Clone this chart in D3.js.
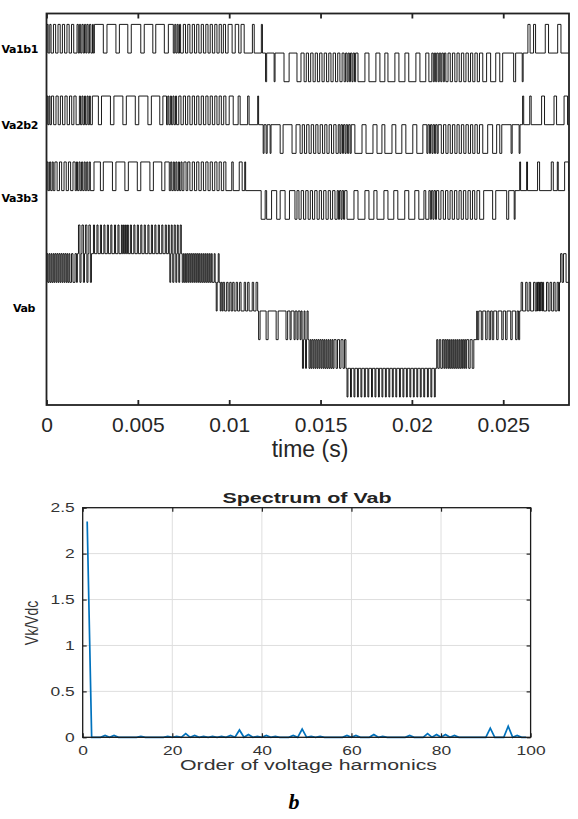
<!DOCTYPE html>
<html>
<head>
<meta charset="utf-8">
<script src="https://cdn.jsdelivr.net/npm/d3@7"></script>
<style>
  body { margin: 0; background: #fff; }
  svg { display: block; }
</style>
</head>
<body>
<svg id="chart" width="578" height="819"></svg>
<script>
// ---------- top plot data (time in ms) ----------
const timeTicks = [0, 5, 10, 15, 20, 25];
const timeTickLabels = ["0", "0.005", "0.01", "0.015", "0.02", "0.025"];
const traceNames = ["Va1b1", "Va2b2", "Va3b3", "Vab"];

// cell outputs: [start, end] of the +1 and -1 pulses, the rest is 0
const va1Pos = [[0.03,0.09],[0.18,0.25],
  [0.38,0.50],[0.63,0.75],[0.87,0.99],[1.12,1.24],[1.37,1.49],
  [1.67,1.74],[1.80,1.87],[1.94,2.01],[2.08,2.15],[2.21,2.28],[2.35,2.43],
  [2.52,2.56],[2.62,3.11],[3.31,3.80],[3.99,4.45],[4.64,5.16],[5.35,5.82],[5.98,6.45],[6.67,6.94],
  [7.02,7.08],[7.15,7.21],[7.28,7.34],
  [7.49,7.61],[7.73,7.85],[7.98,8.10],[8.22,8.34],[8.47,8.59],[8.72,8.84],[8.96,9.08],[9.21,9.33],[9.45,9.57],
  [9.68,9.80],[9.94,10.16],[10.33,10.52],[10.65,10.82],[11.27,11.37],[11.76,11.82],
  [26.35,26.47],[26.66,26.77],[27.30,27.48],[27.98,28.16]];
const va1Neg = [[11.99,12.05],[12.46,12.51],[13.00,13.28],[13.71,13.93],
  [14.10,14.22],[14.34,14.46],[14.59,14.71],[14.83,14.95],[15.08,15.20],[15.33,15.45],[15.57,15.69],[15.82,15.94],[16.06,16.18],[16.29,16.37],
  [16.45,16.51],[16.58,16.64],[16.72,16.78],[16.86,16.92],
  [17.05,17.43],[17.65,18.03],[18.25,18.52],[18.69,19.07],[19.29,19.62],[19.83,20.22],[20.44,20.76],[20.93,21.09],
  [21.17,21.23],[21.30,21.36],[21.44,21.50],[21.58,21.64],[21.72,21.78],
  [21.86,21.98],[22.10,22.22],[22.35,22.47],[22.59,22.71],[22.84,22.96],[23.09,23.21],[23.33,23.45],[23.58,23.70],
  [23.88,24.09],[24.31,24.59],[24.81,24.97],[25.57,25.68],[26.04,26.09]];

const va2Pos = [[0.03,0.08],[0.14,0.19],
  [0.27,0.39],[0.52,0.64],[0.76,0.88],[1.01,1.13],[1.26,1.38],[1.50,1.62],
  [1.80,1.86],[1.94,2.00],[2.08,2.14],[2.22,2.28],[2.35,2.40],
  [2.51,2.84],[3.01,3.50],[3.69,4.18],[4.37,4.86],[5.05,5.55],[5.74,6.20],[6.37,6.57],
  [6.64,6.70],[6.78,6.84],[6.92,6.98],[7.06,7.12],
  [7.24,7.36],[7.49,7.61],[7.73,7.85],[7.98,8.10],[8.22,8.34],[8.47,8.59],[8.72,8.84],[8.96,9.08],[9.21,9.33],[9.45,9.57],[9.70,9.82],
  [10.00,10.22],[10.49,10.60],[11.01,11.09],[11.56,11.61],
  [26.06,26.12],[26.45,26.53],[27.10,27.26],[27.78,27.92],[28.33,28.52]];
const va2Neg = [[11.86,11.91],[12.02,12.08],[12.24,12.29],[12.79,12.95],[13.44,13.66],
  [13.88,14.00],[14.12,14.24],[14.37,14.49],[14.62,14.74],[14.86,14.98],[15.11,15.23],[15.35,15.47],[15.60,15.72],[15.85,15.97],
  [16.06,16.12],[16.20,16.26],[16.34,16.40],[16.48,16.54],[16.62,16.68],
  [16.88,17.27],[17.49,17.87],[18.09,18.36],[18.52,18.91],[19.12,19.45],[19.67,20.05],[20.27,20.60],
  [20.82,20.88],[20.96,21.02],[21.10,21.16],[21.24,21.30],[21.38,21.44],
  [21.61,21.73],[21.86,21.98],[22.10,22.22],[22.35,22.47],[22.59,22.71],[22.84,22.96],[23.09,23.21],[23.33,23.45],[23.58,23.70],
  [23.88,24.15],[24.42,24.64],[24.81,24.92],[25.43,25.49],[25.87,25.92]];

const va3Pos = [[0.03,0.09],[0.17,0.23],[0.31,0.37],
  [0.46,0.58],[0.71,0.83],[0.96,1.08],[1.20,1.32],[1.45,1.57],
  [1.64,1.70],[1.78,1.84],[1.92,1.98],[2.06,2.12],[2.20,2.26],[2.34,2.40],
  [2.60,2.95],[3.11,3.61],[3.80,4.29],[4.48,4.97],[5.16,5.66],[5.85,6.31],[6.48,6.72],
  [6.80,6.86],[6.94,7.00],[7.08,7.14],[7.22,7.28],[7.36,7.42],
  [7.52,7.64],[7.73,7.85],[7.98,8.10],[8.22,8.34],[8.47,8.59],[8.72,8.84],[8.96,9.08],[9.21,9.33],[9.45,9.57],[9.70,9.82],
  [10.14,10.22],[10.55,10.71],[10.85,10.90],
  [25.90,25.95],[26.28,26.33],[26.88,26.99],[27.63,27.74],[27.96,28.01],[28.36,28.58]];
const va3Neg = [[11.75,11.97],[12.05,12.32],[12.60,12.79],[13.06,13.30],[13.60,13.71],
  [13.82,13.94],[14.07,14.19],[14.32,14.44],[14.56,14.68],[14.81,14.93],[15.05,15.17],[15.30,15.42],[15.54,15.66],[15.79,15.91],
  [15.98,16.04],[16.12,16.18],[16.26,16.32],
  [16.45,16.83],[17.05,17.43],[17.65,17.92],[18.09,18.47],[18.69,19.01],[19.23,19.61],[19.83,20.16],[20.38,20.66],[20.76,20.93],
  [21.01,21.07],[21.15,21.21],[21.29,21.35],
  [21.47,21.59],[21.72,21.84],[21.97,22.09],[22.21,22.33],[22.46,22.58],[22.70,22.82],[22.95,23.07],[23.20,23.32],[23.44,23.56],
  [23.71,23.93],[24.42,24.59],[25.19,25.30],[25.60,25.65]];

// Vab: base level per interval, and pulses [start, end, level] on top of it
const vabBands = [[0,1.69,1],[1.69,7.43,2],[7.43,9.62,1],[9.62,13.88,0],[13.88,16.39,-1],
  [16.39,21.36,-2],[21.36,23.55,-1],[23.55,28.08,0],[28.08,28.6,1]];
const vabPulses = [
  [0.03,0.08,2],[0.14,0.19,2],[0.25,0.30,2],[0.36,0.41,2],[0.46,0.52,2],[0.57,0.63,2],[0.68,0.74,2],[0.79,0.85,2],[0.90,0.96,2],[1.01,1.07,2],[1.12,1.17,2],[1.23,1.28,2],
  [1.37,1.45,2],[1.56,1.64,2],
  [1.75,1.83,3],[1.83,1.89,1],[1.94,2.02,3],[2.02,2.08,1],[2.13,2.21,3],[2.21,2.27,1],[2.32,2.40,3],[2.40,2.46,1],
  [2.57,2.63,3],[2.76,2.82,3],[2.95,3.01,3],[3.14,3.20,3],[3.33,3.39,3],[3.52,3.58,3],[3.72,3.78,3],[3.91,3.97,3],
  [4.10,4.15,3],[4.21,4.26,3],[4.32,4.37,3],[4.43,4.48,3],[4.59,4.65,3],[4.78,4.84,3],[4.97,5.03,3],[5.16,5.22,3],
  [5.35,5.41,3],[5.55,5.61,3],[5.74,5.80,3],[5.93,5.99,3],[6.12,6.18,3],[6.31,6.37,3],[6.50,6.56,3],
  [6.67,6.72,3],[6.75,6.80,1],[6.83,6.88,3],[6.91,6.97,1],[6.99,7.05,3],[7.08,7.13,1],[7.16,7.21,3],[7.24,7.29,1],[7.32,7.38,3],
  [7.49,7.54,2],[7.60,7.65,2],[7.70,7.76,2],[7.81,7.87,2],[7.92,7.98,2],[8.03,8.09,2],[8.14,8.20,2],[8.25,8.31,2],
  [8.36,8.41,2],[8.47,8.52,2],[8.58,8.63,2],[8.69,8.74,2],[8.80,8.85,2],[8.91,8.96,2],[9.02,9.07,2],
  [9.18,9.23,2],[9.29,9.34,0],[9.40,9.45,2],[9.51,9.56,0],
  [9.67,9.75,1],[9.86,9.94,1],[10.03,10.11,1],[10.19,10.27,1],[10.38,10.46,1],[10.57,10.65,1],[10.82,10.90,1],[11.01,11.09,1],[11.26,11.34,1],[11.47,11.56,1],
  [11.61,11.69,-1],[12.02,12.13,-1],[12.57,12.68,-1],[13.11,13.20,-1],[13.33,13.39,-1],[13.55,13.61,-1],[13.71,13.77,-1],
  [13.93,13.99,0],[14.01,14.07,-2],[14.10,14.15,0],[14.18,14.23,-2],[14.26,14.32,0],[14.37,14.43,-2],[14.48,14.53,-2],[14.59,14.64,-2],
  [14.70,14.75,-2],[14.81,14.86,-2],[14.92,14.97,-2],[15.03,15.08,-2],[15.14,15.19,-2],[15.24,15.30,-2],[15.35,15.41,-2],[15.46,15.52,-2],
  [15.57,15.63,-2],[15.68,15.74,-2],[15.85,15.93,-2],[16.04,16.12,-2],[16.23,16.31,-2],
  [16.45,16.50,-3],[16.64,16.69,-3],[16.83,16.88,-3],[17.02,17.07,-3],[17.21,17.26,-3],[17.40,17.45,-3],[17.59,17.64,-3],[17.79,17.84,-3],
  [17.98,18.03,-3],[18.17,18.22,-3],[18.36,18.41,-3],[18.55,18.60,-3],[18.74,18.79,-3],[18.93,18.98,-3],[19.12,19.17,-3],[19.32,19.37,-3],
  [19.51,19.56,-3],[19.70,19.75,-3],[19.89,19.94,-3],[20.08,20.13,-3],[20.27,20.32,-3],[20.46,20.51,-3],[20.65,20.70,-3],[20.85,20.90,-3],
  [21.04,21.09,-3],[21.23,21.28,-3],
  [21.42,21.50,-2],[21.58,21.67,-2],[21.75,21.80,-2],[21.86,21.91,-2],[21.97,22.02,-2],[22.07,22.13,-2],[22.18,22.24,-2],[22.29,22.35,-2],
  [22.40,22.46,-2],[22.51,22.57,-2],[22.62,22.68,-2],[22.73,22.78,-2],[22.84,22.89,-2],[22.95,23.00,-2],[23.11,23.19,-2],[23.30,23.39,-2],
  [23.58,23.66,-1],[23.80,23.88,-1],[24.04,24.12,-1],[24.23,24.31,-1],[24.40,24.48,-1],[24.64,24.72,-1],[24.92,25.00,-1],[25.13,25.21,-1],
  [25.41,25.49,-1],[25.68,25.76,-1],[25.84,25.90,-1],
  [25.98,26.06,1],[26.23,26.31,1],[26.42,26.50,1],[26.66,26.75,1],[26.83,26.88,1],[26.91,26.96,1],[26.99,27.05,1],[27.07,27.13,1],
  [27.16,27.21,1],[27.37,27.46,1],[27.56,27.65,1],[27.76,27.84,1],[27.95,28.03,1],
  [28.14,28.22,2],[28.30,28.44,2]];

// ---------- bottom plot data ----------
// Vk/Vdc for harmonic orders 1..99
const spectrumValues = [
  2.35, 0, 0, 0, 0.02, 0, 0.02, 0, 0, 0,
  0, 0, 0.01, 0, 0, 0, 0, 0, 0.01, 0,
  0.01, 0, 0.04, 0, 0.02, 0, 0.01, 0, 0.01, 0,
  0.01, 0, 0.02, 0, 0.08, 0, 0.03, 0, 0.01, 0,
  0.02, 0, 0.01, 0, 0, 0, 0.02, 0, 0.09, 0,
  0.01, 0, 0.01, 0, 0, 0, 0, 0, 0.02, 0,
  0.02, 0, 0, 0, 0.03, 0, 0.01, 0, 0, 0,
  0, 0, 0.02, 0, 0, 0, 0.04, 0, 0.03, 0,
  0.03, 0, 0.02, 0, 0, 0, 0, 0, 0, 0,
  0.10, 0, 0, 0, 0.12, 0, 0.02, 0, 0];
const orderTicks = [0, 20, 40, 60, 80, 100];
const ampTicks = [0, 0.5, 1, 1.5, 2, 2.5];

// ---------- layout ----------
const tEnd = 28.6;
const traceOffsets = [9, 6.5, 4.2, 0];
const labelLevels = [9.14, 6.49, 3.94, 0.1];
const labelRight = [38, 38, 38, 35];

const svg = d3.select("#chart");

// turn bands + pulses into step points
function stepPoints(bands, pulses) {
  const cuts = new Set();
  bands.forEach(b => { cuts.add(b[0]); cuts.add(b[1]); });
  pulses.forEach(p => { cuts.add(p[0]); cuts.add(p[1]); });
  const ts = Array.from(cuts).sort((a, b) => a - b);
  const levelAt = t => {
    const p = pulses.find(q => t >= q[0] && t < q[1]);
    if (p) return p[2];
    const b = bands.find(q => t >= q[0] && t < q[1]);
    return b ? b[2] : 0;
  };
  const pts = [];
  for (let i = 0; i < ts.length - 1; i++) {
    pts.push([ts[i], levelAt((ts[i] + ts[i + 1]) / 2)]);
  }
  pts.push([ts[ts.length - 1], pts[pts.length - 1][1]]);
  return pts;
}
const cell = (pos, neg) => pos.map(p => [p[0], p[1], 1]).concat(neg.map(p => [p[0], p[1], -1]));

const traces = [
  stepPoints([[0, tEnd, 0]], cell(va1Pos, va1Neg)),
  stepPoints([[0, tEnd, 0]], cell(va2Pos, va2Neg)),
  stepPoints([[0, tEnd, 0]], cell(va3Pos, va3Neg)),
  stepPoints(vabBands, vabPulses)
];

// ---------- top plot ----------
const x1 = d3.scaleLinear().domain([0, tEnd]).range([46.5, 569]);
const y1 = d3.scaleLinear().domain([-3.28, 10.38]).range([405, 13.5]);

svg.append("clipPath").attr("id", "clipTop")
  .append("rect").attr("x", 46.5).attr("y", 13.5).attr("width", 522.5).attr("height", 391.5);

const gTraces = svg.append("g").attr("clip-path", "url(#clipTop)");
traces.forEach((pts, i) => {
  const line = d3.line()
    .x(d => x1(d[0]))
    .y(d => y1(d[1] + traceOffsets[i]))
    .curve(d3.curveStepAfter);
  gTraces.append("path")
    .attr("d", line(pts))
    .attr("fill", "none")
    .attr("stroke", "#000")
    .attr("stroke-width", 0.9);
});

svg.selectAll(".tlabel").data(traceNames).enter().append("text")
  .attr("x", (d, i) => labelRight[i])
  .attr("y", (d, i) => y1(labelLevels[i]))
  .attr("dy", "0.35em")
  .attr("text-anchor", "end")
  .attr("font-family", "DejaVu Sans")
  .attr("font-weight", "bold")
  .attr("font-size", 11)
  .attr("letter-spacing", -0.4)
  .text(d => d);

const xAxisB = d3.axisBottom(x1).tickValues(timeTicks)
  .tickFormat((d, i) => timeTickLabels[i]).tickSize(-5).tickPadding(12);
const gxb = svg.append("g").attr("transform", "translate(0,405)").call(xAxisB);
const gxt = svg.append("g").attr("transform", "translate(0,13.5)")
  .call(d3.axisTop(x1).tickValues(timeTicks).tickFormat("").tickSize(-5));
[gxb, gxt].forEach(g => {
  g.select(".domain").remove();
  g.selectAll(".tick line").attr("stroke", "#222").attr("stroke-width", 1.8);
});
gxb.selectAll(".tick text")
  .attr("font-family", "Liberation Sans, Arial, sans-serif")
  .attr("font-size", 21).attr("fill", "#262626");

svg.append("rect")
  .attr("x", 46.5).attr("y", 13.5).attr("width", 522.5).attr("height", 391.5)
  .attr("fill", "none").attr("stroke", "#222").attr("stroke-width", 1.8);

svg.append("text")
  .attr("x", 310).attr("y", 457)
  .attr("text-anchor", "middle")
  .attr("font-family", "Liberation Sans, Arial, sans-serif")
  .attr("font-size", 23).attr("fill", "#262626")
  .text("time (s)");

// ---------- bottom plot ----------
const x2 = d3.scaleLinear().domain([0, 100]).range([82.7, 530.6]);
const y2 = d3.scaleLinear().domain([0, 2.5]).range([737.3, 507.7]);
const stretch = 1.45;

const grid = svg.append("g").attr("stroke", "#dedede").attr("stroke-width", 1);
grid.selectAll(".gx").data(orderTicks.slice(1, -1)).enter().append("line")
  .attr("x1", d => x2(d)).attr("x2", d => x2(d)).attr("y1", y2(0)).attr("y2", y2(2.5));
grid.selectAll(".gy").data(ampTicks.slice(1, -1)).enter().append("line")
  .attr("x1", x2(0)).attr("x2", x2(100)).attr("y1", d => y2(d)).attr("y2", d => y2(d));

const spec = spectrumValues.map((v, i) => [i + 1, v]);
svg.append("path")
  .attr("d", d3.line().x(d => x2(d[0])).y(d => y2(d[1]))(spec))
  .attr("fill", "none").attr("stroke", "#0072BD").attr("stroke-width", 1.7);

const axes2 = [
  svg.append("g").attr("transform", `translate(0,${y2(0)})`)
    .call(d3.axisBottom(x2).tickValues(orderTicks).tickSize(-4).tickPadding(9)),
  svg.append("g").attr("transform", `translate(0,${y2(2.5)})`)
    .call(d3.axisTop(x2).tickValues(orderTicks).tickFormat("").tickSize(-4)),
  svg.append("g").attr("transform", `translate(${x2(0)},0)`)
    .call(d3.axisLeft(y2).tickValues(ampTicks).tickFormat(d3.format("")).tickSize(-4).tickPadding(8)),
  svg.append("g").attr("transform", `translate(${x2(100)},0)`)
    .call(d3.axisRight(y2).tickValues(ampTicks).tickFormat("").tickSize(-4))
];
axes2.forEach(g => {
  g.select(".domain").remove();
  g.selectAll(".tick line").attr("stroke", "#222").attr("stroke-width", 1.2);
  g.selectAll(".tick text")
    .attr("font-family", "Liberation Sans, Arial, sans-serif")
    .attr("font-size", 12).attr("fill", "#333");
});

svg.append("rect")
  .attr("x", x2(0)).attr("y", y2(2.5)).attr("width", x2(100) - x2(0)).attr("height", y2(0) - y2(2.5))
  .attr("fill", "none").attr("stroke", "#1a1a1a").attr("stroke-width", 1.3);

svg.append("text")
  .attr("x", 307).attr("y", 502.5).attr("text-anchor", "middle")
  .attr("font-family", "Liberation Sans, Arial, sans-serif").attr("font-weight", "bold")
  .attr("font-size", 14).attr("fill", "#222")
  .attr("textLength", 169).attr("lengthAdjust", "spacingAndGlyphs")
  .text("Spectrum of Vab");

svg.append("text")
  .attr("x", 308.5).attr("y", 770).attr("text-anchor", "middle")
  .attr("font-family", "Liberation Sans, Arial, sans-serif")
  .attr("font-size", 14).attr("fill", "#333")
  .attr("textLength", 257).attr("lengthAdjust", "spacingAndGlyphs")
  .text("Order of voltage harmonics");

svg.append("text")
  .attr("transform", "translate(38,623) scale(1.35,1) rotate(-90)")
  .attr("text-anchor", "middle")
  .attr("font-family", "Liberation Sans, Arial, sans-serif")
  .attr("font-size", 14).attr("fill", "#333")
  .text("Vk/Vdc");

// the bottom figure is a horizontally stretched screenshot: widen its tick texts
axes2.forEach(g => g.selectAll(".tick text").each(function () {
  const w = this.getComputedTextLength();
  if (w > 0) d3.select(this).attr("textLength", w * stretch).attr("lengthAdjust", "spacingAndGlyphs");
}));

svg.append("text")
  .attr("x", 294).attr("y", 809).attr("text-anchor", "middle")
  .attr("font-family", "Liberation Serif, Times New Roman, serif")
  .attr("font-weight", "bold").attr("font-style", "italic")
  .attr("font-size", 22)
  .text("b");
</script>
</body>
</html>
